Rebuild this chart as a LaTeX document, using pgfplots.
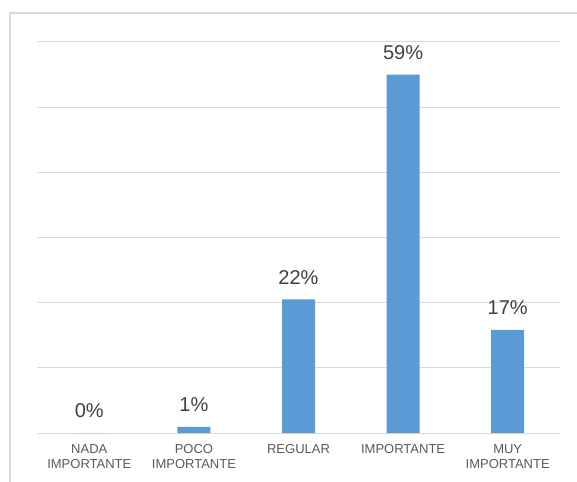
\documentclass[border=0pt]{standalone}
\usepackage{fontspec}
\setmainfont{Liberation Sans}
\usepackage{pgfplots}
\pgfplotsset{compat=1.18}
\definecolor{barblue}{HTML}{5B9BD5}
\definecolor{gridgray}{HTML}{D9D9D9}
\definecolor{labgray}{HTML}{404040}
\definecolor{catgray}{HTML}{595959}
\begin{document}
\begin{tikzpicture}
\useasboundingbox (-27.75pt,-36pt) rectangle (405pt,324.75pt);
\draw[gridgray, line width=0.9pt] (-20.25pt,-80pt) rectangle (460pt,315pt);
\begin{axis}[
  at={(0,0)}, anchor=south west,
  scale only axis, width=392.25pt, height=293.25pt,
  xmin=-0.5, xmax=4.5, ymin=0, ymax=64.38,
  ytick={0,10.73,21.46,32.19,42.92,53.65,64.38},
  yticklabels={},
  ymajorgrids, grid style={gridgray, line width=0.75pt},
  axis line style={draw=none},
  major tick length=0pt,
  /pgf/number format/assume math mode=true,
  xtick={0,1,2,3,4},
  xticklabels={{NADA\\IMPORTANTE},{POCO\\IMPORTANTE},{REGULAR},{IMPORTANTE},{MUY\\IMPORTANTE}},
  xticklabel style={font=\fontsize{9.75}{11.25}\selectfont, text=catgray, align=center, anchor=north, inner sep=0pt, yshift=-8.5pt},
  ybar, bar width=24.75pt,
  point meta=y,
  nodes near coords={\pgfmathprintnumber[assume math mode=true]{\pgfplotspointmeta}\%},
  every node near coord/.append style={font=\fontsize{15}{18}\selectfont, text=labgray, anchor=base, inner sep=0pt, yshift=11.5pt},
  clip=false,
]
\addplot[fill=barblue, draw=none] coordinates {(0,0) (1,1) (2,22) (3,59) (4,17)};
\end{axis}
\end{tikzpicture}
\end{document}
